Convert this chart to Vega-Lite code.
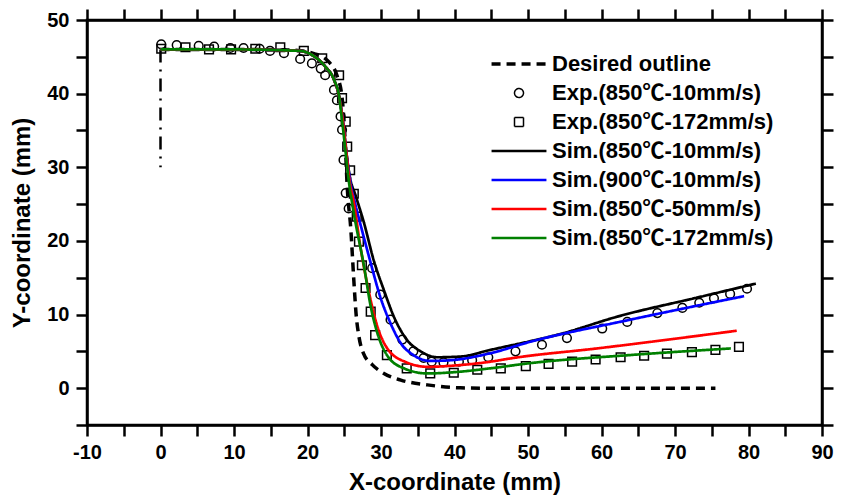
{
  "$schema": "https://vega.github.io/schema/vega-lite/v6.json",
  "width": 735,
  "height": 405,
  "autosize": "none",
  "padding": {"left": 87, "top": 20, "right": 27, "bottom": 77},
  "background": "white",
  "config": {
    "view": {"stroke": "black", "strokeWidth": 2.5},
    "font": "Liberation Sans",
    "axis": {
      "grid": false,
      "domainColor": "black",
      "domainWidth": 2.5,
      "tickColor": "black",
      "tickWidth": 2.5,
      "tickSize": 11,
      "labelOverlap": false,
      "labelFlush": false,
      "labelFont": "Liberation Sans",
      "labelFontSize": 20,
      "labelFontWeight": "bold",
      "labelColor": "black",
      "titleFont": "Liberation Sans",
      "titleFontSize": 24,
      "titleFontWeight": "bold",
      "titleColor": "black"
    }
  },
  "resolve": {"axis": {"x": "independent", "y": "independent"}},
  "datasets": {
    "lines": [
      {"s": "Desired outline", "x": 0, "y": 46},
      {"s": "Desired outline", "x": 10, "y": 46},
      {"s": "Desired outline", "x": 18, "y": 45.9},
      {"s": "Desired outline", "x": 21, "y": 45.4},
      {"s": "Desired outline", "x": 23, "y": 44.2},
      {"s": "Desired outline", "x": 24, "y": 42.5},
      {"s": "Desired outline", "x": 24.7, "y": 39.5},
      {"s": "Desired outline", "x": 25.1, "y": 34},
      {"s": "Desired outline", "x": 25.4, "y": 27.4},
      {"s": "Desired outline", "x": 25.9, "y": 21.5},
      {"s": "Desired outline", "x": 26.3, "y": 14.7},
      {"s": "Desired outline", "x": 26.6, "y": 10.2},
      {"s": "Desired outline", "x": 27, "y": 7},
      {"s": "Desired outline", "x": 27.6, "y": 4.75},
      {"s": "Desired outline", "x": 28.8, "y": 3.2},
      {"s": "Desired outline", "x": 30.4, "y": 2},
      {"s": "Desired outline", "x": 32.7, "y": 1.1},
      {"s": "Desired outline", "x": 36.3, "y": 0.45},
      {"s": "Desired outline", "x": 40.8, "y": 0.05},
      {"s": "Desired outline", "x": 45, "y": 0},
      {"s": "Desired outline", "x": 75.5, "y": 0},

      {"s": "Sim.(850℃-10mm/s)", "x": 0, "y": 46},
      {"s": "Sim.(850℃-10mm/s)", "x": 10, "y": 46},
      {"s": "Sim.(850℃-10mm/s)", "x": 19, "y": 45.8},
      {"s": "Sim.(850℃-10mm/s)", "x": 21, "y": 45},
      {"s": "Sim.(850℃-10mm/s)", "x": 22.4, "y": 43.7},
      {"s": "Sim.(850℃-10mm/s)", "x": 23.6, "y": 41.9},
      {"s": "Sim.(850℃-10mm/s)", "x": 24.3, "y": 39.6},
      {"s": "Sim.(850℃-10mm/s)", "x": 24.8, "y": 36.4},
      {"s": "Sim.(850℃-10mm/s)", "x": 25.3, "y": 31.9},
      {"s": "Sim.(850℃-10mm/s)", "x": 25.8, "y": 28.5},
      {"s": "Sim.(850℃-10mm/s)", "x": 26.5, "y": 26.3},
      {"s": "Sim.(850℃-10mm/s)", "x": 27.7, "y": 22.4},
      {"s": "Sim.(850℃-10mm/s)", "x": 29, "y": 17.4},
      {"s": "Sim.(850℃-10mm/s)", "x": 30.4, "y": 13.3},
      {"s": "Sim.(850℃-10mm/s)", "x": 31.8, "y": 9.6},
      {"s": "Sim.(850℃-10mm/s)", "x": 33.5, "y": 6.6},
      {"s": "Sim.(850℃-10mm/s)", "x": 35.4, "y": 5},
      {"s": "Sim.(850℃-10mm/s)", "x": 37.6, "y": 4.2},
      {"s": "Sim.(850℃-10mm/s)", "x": 40.8, "y": 4.3},
      {"s": "Sim.(850℃-10mm/s)", "x": 44.9, "y": 5.2},
      {"s": "Sim.(850℃-10mm/s)", "x": 54.9, "y": 7.5},
      {"s": "Sim.(850℃-10mm/s)", "x": 62.1, "y": 9.7},
      {"s": "Sim.(850℃-10mm/s)", "x": 73, "y": 12.3},
      {"s": "Sim.(850℃-10mm/s)", "x": 81, "y": 14.2},

      {"s": "Sim.(900℃-10mm/s)", "x": 0, "y": 46},
      {"s": "Sim.(900℃-10mm/s)", "x": 10, "y": 46},
      {"s": "Sim.(900℃-10mm/s)", "x": 19, "y": 45.8},
      {"s": "Sim.(900℃-10mm/s)", "x": 21, "y": 45},
      {"s": "Sim.(900℃-10mm/s)", "x": 22.4, "y": 43.7},
      {"s": "Sim.(900℃-10mm/s)", "x": 23.6, "y": 41.9},
      {"s": "Sim.(900℃-10mm/s)", "x": 24.3, "y": 39.6},
      {"s": "Sim.(900℃-10mm/s)", "x": 24.8, "y": 36.4},
      {"s": "Sim.(900℃-10mm/s)", "x": 25.3, "y": 31.9},
      {"s": "Sim.(900℃-10mm/s)", "x": 25.8, "y": 28.2},
      {"s": "Sim.(900℃-10mm/s)", "x": 26.5, "y": 25},
      {"s": "Sim.(900℃-10mm/s)", "x": 27.4, "y": 21.5},
      {"s": "Sim.(900℃-10mm/s)", "x": 28.6, "y": 17},
      {"s": "Sim.(900℃-10mm/s)", "x": 29.9, "y": 12.4},
      {"s": "Sim.(900℃-10mm/s)", "x": 31.3, "y": 8.8},
      {"s": "Sim.(900℃-10mm/s)", "x": 32.7, "y": 6.1},
      {"s": "Sim.(900℃-10mm/s)", "x": 34.4, "y": 4.5},
      {"s": "Sim.(900℃-10mm/s)", "x": 36.7, "y": 3.7},
      {"s": "Sim.(900℃-10mm/s)", "x": 39.5, "y": 3.8},
      {"s": "Sim.(900℃-10mm/s)", "x": 44.9, "y": 4.75},
      {"s": "Sim.(900℃-10mm/s)", "x": 50.3, "y": 6.3},
      {"s": "Sim.(900℃-10mm/s)", "x": 63.9, "y": 9.3},
      {"s": "Sim.(900℃-10mm/s)", "x": 79.4, "y": 12.5},

      {"s": "Sim.(850℃-50mm/s)", "x": 0, "y": 46},
      {"s": "Sim.(850℃-50mm/s)", "x": 10, "y": 46},
      {"s": "Sim.(850℃-50mm/s)", "x": 19, "y": 45.8},
      {"s": "Sim.(850℃-50mm/s)", "x": 21, "y": 45},
      {"s": "Sim.(850℃-50mm/s)", "x": 22.4, "y": 43.7},
      {"s": "Sim.(850℃-50mm/s)", "x": 23.6, "y": 41.9},
      {"s": "Sim.(850℃-50mm/s)", "x": 24.3, "y": 39.6},
      {"s": "Sim.(850℃-50mm/s)", "x": 24.8, "y": 36.4},
      {"s": "Sim.(850℃-50mm/s)", "x": 25.3, "y": 31.9},
      {"s": "Sim.(850℃-50mm/s)", "x": 25.7, "y": 28.3},
      {"s": "Sim.(850℃-50mm/s)", "x": 26.3, "y": 25.2},
      {"s": "Sim.(850℃-50mm/s)", "x": 27.2, "y": 19.2},
      {"s": "Sim.(850℃-50mm/s)", "x": 28.3, "y": 13.3},
      {"s": "Sim.(850℃-50mm/s)", "x": 29.5, "y": 8.4},
      {"s": "Sim.(850℃-50mm/s)", "x": 31, "y": 5.2},
      {"s": "Sim.(850℃-50mm/s)", "x": 33.5, "y": 3.5},
      {"s": "Sim.(850℃-50mm/s)", "x": 36.3, "y": 2.9},
      {"s": "Sim.(850℃-50mm/s)", "x": 40.3, "y": 3.1},
      {"s": "Sim.(850℃-50mm/s)", "x": 44.9, "y": 3.6},
      {"s": "Sim.(850℃-50mm/s)", "x": 48, "y": 4.1},
      {"s": "Sim.(850℃-50mm/s)", "x": 59.4, "y": 5.4},
      {"s": "Sim.(850℃-50mm/s)", "x": 78.4, "y": 7.8},

      {"s": "Sim.(850℃-172mm/s)", "x": 0, "y": 46},
      {"s": "Sim.(850℃-172mm/s)", "x": 10, "y": 46},
      {"s": "Sim.(850℃-172mm/s)", "x": 19, "y": 45.8},
      {"s": "Sim.(850℃-172mm/s)", "x": 21, "y": 45},
      {"s": "Sim.(850℃-172mm/s)", "x": 22.4, "y": 43.7},
      {"s": "Sim.(850℃-172mm/s)", "x": 23.6, "y": 41.9},
      {"s": "Sim.(850℃-172mm/s)", "x": 24.3, "y": 39.6},
      {"s": "Sim.(850℃-172mm/s)", "x": 24.7, "y": 36.4},
      {"s": "Sim.(850℃-172mm/s)", "x": 25.2, "y": 31.9},
      {"s": "Sim.(850℃-172mm/s)", "x": 25.6, "y": 28.3},
      {"s": "Sim.(850℃-172mm/s)", "x": 26.3, "y": 23.8},
      {"s": "Sim.(850℃-172mm/s)", "x": 27.7, "y": 16.5},
      {"s": "Sim.(850℃-172mm/s)", "x": 28.6, "y": 11.1},
      {"s": "Sim.(850℃-172mm/s)", "x": 29.5, "y": 7.5},
      {"s": "Sim.(850℃-172mm/s)", "x": 30.8, "y": 4.5},
      {"s": "Sim.(850℃-172mm/s)", "x": 33.1, "y": 2.7},
      {"s": "Sim.(850℃-172mm/s)", "x": 36.3, "y": 2.0},
      {"s": "Sim.(850℃-172mm/s)", "x": 40.3, "y": 2.2},
      {"s": "Sim.(850℃-172mm/s)", "x": 44.9, "y": 2.7},
      {"s": "Sim.(850℃-172mm/s)", "x": 50.3, "y": 3.4},
      {"s": "Sim.(850℃-172mm/s)", "x": 63.9, "y": 4.5},
      {"s": "Sim.(850℃-172mm/s)", "x": 77.6, "y": 5.4}
    ],
    "exp": [
      {"s": "Exp.(850℃-10mm/s)", "x": 0.1, "y": 46.7},
      {"s": "Exp.(850℃-10mm/s)", "x": 2.2, "y": 46.6},
      {"s": "Exp.(850℃-10mm/s)", "x": 5.2, "y": 46.5},
      {"s": "Exp.(850℃-10mm/s)", "x": 7.3, "y": 46.4},
      {"s": "Exp.(850℃-10mm/s)", "x": 9.5, "y": 46.2},
      {"s": "Exp.(850℃-10mm/s)", "x": 11.3, "y": 46.2},
      {"s": "Exp.(850℃-10mm/s)", "x": 13.5, "y": 46.1},
      {"s": "Exp.(850℃-10mm/s)", "x": 14.9, "y": 45.8},
      {"s": "Exp.(850℃-10mm/s)", "x": 16.8, "y": 45.5},
      {"s": "Exp.(850℃-10mm/s)", "x": 19, "y": 44.7},
      {"s": "Exp.(850℃-10mm/s)", "x": 20.6, "y": 44.1},
      {"s": "Exp.(850℃-10mm/s)", "x": 21.8, "y": 43.4},
      {"s": "Exp.(850℃-10mm/s)", "x": 22.4, "y": 42.5},
      {"s": "Exp.(850℃-10mm/s)", "x": 23.6, "y": 40.5},
      {"s": "Exp.(850℃-10mm/s)", "x": 24, "y": 39.1},
      {"s": "Exp.(850℃-10mm/s)", "x": 24.5, "y": 36.9},
      {"s": "Exp.(850℃-10mm/s)", "x": 24.7, "y": 35.1},
      {"s": "Exp.(850℃-10mm/s)", "x": 24.9, "y": 31},
      {"s": "Exp.(850℃-10mm/s)", "x": 25.2, "y": 26.5},
      {"s": "Exp.(850℃-10mm/s)", "x": 25.6, "y": 24.4},
      {"s": "Exp.(850℃-10mm/s)", "x": 28.8, "y": 16.3},
      {"s": "Exp.(850℃-10mm/s)", "x": 29.9, "y": 12.7},
      {"s": "Exp.(850℃-10mm/s)", "x": 31.3, "y": 9.3},
      {"s": "Exp.(850℃-10mm/s)", "x": 32.9, "y": 6.6},
      {"s": "Exp.(850℃-10mm/s)", "x": 34.4, "y": 5.0},
      {"s": "Exp.(850℃-10mm/s)", "x": 35.8, "y": 4.1},
      {"s": "Exp.(850℃-10mm/s)", "x": 36.9, "y": 3.6},
      {"s": "Exp.(850℃-10mm/s)", "x": 38.5, "y": 3.5},
      {"s": "Exp.(850℃-10mm/s)", "x": 40.6, "y": 3.6},
      {"s": "Exp.(850℃-10mm/s)", "x": 42.4, "y": 3.8},
      {"s": "Exp.(850℃-10mm/s)", "x": 44.6, "y": 4.2},
      {"s": "Exp.(850℃-10mm/s)", "x": 48.3, "y": 5.0},
      {"s": "Exp.(850℃-10mm/s)", "x": 51.9, "y": 5.9},
      {"s": "Exp.(850℃-10mm/s)", "x": 55.3, "y": 6.8},
      {"s": "Exp.(850℃-10mm/s)", "x": 60.1, "y": 8.1},
      {"s": "Exp.(850℃-10mm/s)", "x": 63.5, "y": 9.0},
      {"s": "Exp.(850℃-10mm/s)", "x": 67.6, "y": 10.2},
      {"s": "Exp.(850℃-10mm/s)", "x": 71, "y": 10.9},
      {"s": "Exp.(850℃-10mm/s)", "x": 73.3, "y": 11.6},
      {"s": "Exp.(850℃-10mm/s)", "x": 75.3, "y": 12.2},
      {"s": "Exp.(850℃-10mm/s)", "x": 77.5, "y": 12.8},
      {"s": "Exp.(850℃-10mm/s)", "x": 79.8, "y": 13.5},

      {"s": "Exp.(850℃-172mm/s)", "x": 0.1, "y": 46.1},
      {"s": "Exp.(850℃-172mm/s)", "x": 3.4, "y": 46.3},
      {"s": "Exp.(850℃-172mm/s)", "x": 6.6, "y": 46},
      {"s": "Exp.(850℃-172mm/s)", "x": 9.6, "y": 46},
      {"s": "Exp.(850℃-172mm/s)", "x": 12.9, "y": 46.1},
      {"s": "Exp.(850℃-172mm/s)", "x": 16.3, "y": 46.3},
      {"s": "Exp.(850℃-172mm/s)", "x": 19.5, "y": 45.8},
      {"s": "Exp.(850℃-172mm/s)", "x": 22, "y": 44.8},
      {"s": "Exp.(850℃-172mm/s)", "x": 24.3, "y": 42.5},
      {"s": "Exp.(850℃-172mm/s)", "x": 24.7, "y": 39.4},
      {"s": "Exp.(850℃-172mm/s)", "x": 25.2, "y": 36.2},
      {"s": "Exp.(850℃-172mm/s)", "x": 25.4, "y": 32.8},
      {"s": "Exp.(850℃-172mm/s)", "x": 25.8, "y": 29.6},
      {"s": "Exp.(850℃-172mm/s)", "x": 26.3, "y": 26.4},
      {"s": "Exp.(850℃-172mm/s)", "x": 26.7, "y": 23.3},
      {"s": "Exp.(850℃-172mm/s)", "x": 27, "y": 19.9},
      {"s": "Exp.(850℃-172mm/s)", "x": 27.4, "y": 16.7},
      {"s": "Exp.(850℃-172mm/s)", "x": 27.9, "y": 13.6},
      {"s": "Exp.(850℃-172mm/s)", "x": 28.6, "y": 10.4},
      {"s": "Exp.(850℃-172mm/s)", "x": 29.2, "y": 7.2},
      {"s": "Exp.(850℃-172mm/s)", "x": 30.8, "y": 4.5},
      {"s": "Exp.(850℃-172mm/s)", "x": 33.5, "y": 2.7},
      {"s": "Exp.(850℃-172mm/s)", "x": 36.7, "y": 2.0},
      {"s": "Exp.(850℃-172mm/s)", "x": 39.9, "y": 2.1},
      {"s": "Exp.(850℃-172mm/s)", "x": 43.1, "y": 2.5},
      {"s": "Exp.(850℃-172mm/s)", "x": 46.3, "y": 2.7},
      {"s": "Exp.(850℃-172mm/s)", "x": 49.7, "y": 3.0},
      {"s": "Exp.(850℃-172mm/s)", "x": 52.8, "y": 3.3},
      {"s": "Exp.(850℃-172mm/s)", "x": 56, "y": 3.6},
      {"s": "Exp.(850℃-172mm/s)", "x": 59.2, "y": 3.9},
      {"s": "Exp.(850℃-172mm/s)", "x": 62.6, "y": 4.2},
      {"s": "Exp.(850℃-172mm/s)", "x": 65.8, "y": 4.4},
      {"s": "Exp.(850℃-172mm/s)", "x": 68.9, "y": 4.7},
      {"s": "Exp.(850℃-172mm/s)", "x": 72.3, "y": 4.9},
      {"s": "Exp.(850℃-172mm/s)", "x": 75.5, "y": 5.2},
      {"s": "Exp.(850℃-172mm/s)", "x": 78.7, "y": 5.6}
    ],
    "sym": [
      {"x": 0, "y": 46},
      {"x": 0, "y": 30}
    ]
  },
  "layer": [
    {
      "data": {"name": "exp"},
      "mark": {"type": "point", "filled": false, "size": 75, "strokeWidth": 1.5, "opacity": 1},
      "encoding": {
        "x": {
          "field": "x", "type": "quantitative",
          "scale": {"domain": [-10, 90], "nice": false, "zero": false},
          "axis": {
            "orient": "bottom",
            "title": "X-coordinate (mm)",
            "tickCount": 20,
            "labelExpr": "abs(datum.value) % 10 === 0 ? toString(datum.value) : ''",
            "labelPadding": 6,
            "titlePadding": 8,
            "encode": {
              "ticks": {"update": {"y2": {"signal": "abs(datum.value) % 10 === 0 ? 11 : 6"}}}
            }
          }
        },
        "y": {
          "field": "y", "type": "quantitative",
          "scale": {"domain": [-5, 50], "nice": false, "zero": false},
          "axis": {
            "orient": "left",
            "title": "Y-coordinate (mm)",
            "tickCount": 11,
            "labelExpr": "abs(datum.value) % 10 === 0 ? toString(datum.value) : ''",
            "labelPadding": 7,
            "titlePadding": 12,
            "encode": {
              "ticks": {"update": {"x2": {"signal": "abs(datum.value) % 10 === 0 ? -11 : -6"}}}
            }
          }
        },
        "shape": {
          "field": "s", "type": "nominal",
          "scale": {
            "domain": ["Desired outline", "Exp.(850℃-10mm/s)", "Exp.(850℃-172mm/s)", "Sim.(850℃-10mm/s)", "Sim.(900℃-10mm/s)", "Sim.(850℃-50mm/s)", "Sim.(850℃-172mm/s)"],
            "range": ["M-6.1,0H6.1", "circle", "square", "M-6.1,0H6.1", "M-6.1,0H6.1", "M-6.1,0H6.1", "M-6.1,0H6.1"]
          },
          "legend": {
            "orient": "none",
            "legendX": 421,
            "legendY": 33,
            "title": null,
            "padding": 0,
            "labelFont": "Liberation Sans, Noto Sans CJK SC",
            "labelFontSize": 22,
            "labelFontWeight": "bold",
            "labelColor": "black",
            "labelLimit": 0,
            "labelOffset": 22,
            "symbolSize": 81,
            "rowPadding": 7
          }
        },
        "color": {
          "field": "s", "type": "nominal",
          "scale": {
            "domain": ["Desired outline", "Exp.(850℃-10mm/s)", "Exp.(850℃-172mm/s)", "Sim.(850℃-10mm/s)", "Sim.(900℃-10mm/s)", "Sim.(850℃-50mm/s)", "Sim.(850℃-172mm/s)"],
            "range": ["black", "black", "black", "black", "#0000ff", "#ff0000", "#008000"]
          },
          "legend": {
            "orient": "none",
            "legendX": 421,
            "legendY": 33,
            "title": null,
            "padding": 0,
            "labelFont": "Liberation Sans, Noto Sans CJK SC",
            "labelFontSize": 22,
            "labelFontWeight": "bold",
            "labelColor": "black",
            "labelLimit": 0,
            "labelOffset": 22,
            "symbolSize": 81,
            "rowPadding": 7
          }
        }
      }
    },
    {
      "data": {"name": "sym"},
      "mark": {"type": "line", "color": "black", "strokeWidth": 2.5, "strokeDash": [13, 7, 2, 7]},
      "encoding": {
        "x": {"field": "x", "type": "quantitative", "axis": null},
        "y": {"field": "y", "type": "quantitative", "axis": null}
      }
    },
    {
      "data": {"name": "lines"},
      "mark": {"type": "line", "interpolate": "monotone"},
      "encoding": {
        "x": {
          "field": "x", "type": "quantitative",
          "axis": {
            "orient": "top",
            "title": null,
            "labels": false,
            "tickCount": 20,
            "encode": {
              "ticks": {"update": {"y2": {"signal": "abs(datum.value) % 10 === 0 ? 12 : 6"}}}
            }
          }
        },
        "y": {
          "field": "y", "type": "quantitative",
          "axis": {
            "orient": "right",
            "title": null,
            "labels": false,
            "tickCount": 11,
            "encode": {
              "ticks": {"update": {"x2": {"signal": "abs(datum.value) % 10 === 0 ? -12 : -6"}}}
            }
          }
        },
        "color": {"field": "s", "type": "nominal"},
        "strokeDash": {
          "field": "s", "type": "nominal",
          "scale": {
            "domain": ["Desired outline", "Exp.(850℃-10mm/s)", "Exp.(850℃-172mm/s)", "Sim.(850℃-10mm/s)", "Sim.(900℃-10mm/s)", "Sim.(850℃-50mm/s)", "Sim.(850℃-172mm/s)"],
            "range": [[9, 6], [1, 0], [1, 0], [1, 0], [1, 0], [1, 0], [1, 0]]
          },
          "legend": {
            "orient": "none",
            "legendX": 421,
            "legendY": 33,
            "title": null,
            "padding": 0,
            "labelFont": "Liberation Sans, Noto Sans CJK SC",
            "labelFontSize": 22,
            "labelFontWeight": "bold",
            "labelColor": "black",
            "labelLimit": 0,
            "labelOffset": 22,
            "symbolSize": 81,
            "rowPadding": 7
          }
        },
        "strokeWidth": {
          "field": "s", "type": "nominal",
          "scale": {
            "type": "ordinal",
            "domain": ["Desired outline", "Exp.(850℃-10mm/s)", "Exp.(850℃-172mm/s)", "Sim.(850℃-10mm/s)", "Sim.(900℃-10mm/s)", "Sim.(850℃-50mm/s)", "Sim.(850℃-172mm/s)"],
            "range": [3.5, 1.5, 1.5, 2.7, 2.7, 2.7, 2.7]
          },
          "legend": {
            "orient": "none",
            "legendX": 421,
            "legendY": 33,
            "title": null,
            "padding": 0,
            "labelFont": "Liberation Sans, Noto Sans CJK SC",
            "labelFontSize": 22,
            "labelFontWeight": "bold",
            "labelColor": "black",
            "labelLimit": 0,
            "labelOffset": 22,
            "symbolSize": 81,
            "rowPadding": 7
          }
        }
      }
    }
  ]
}
